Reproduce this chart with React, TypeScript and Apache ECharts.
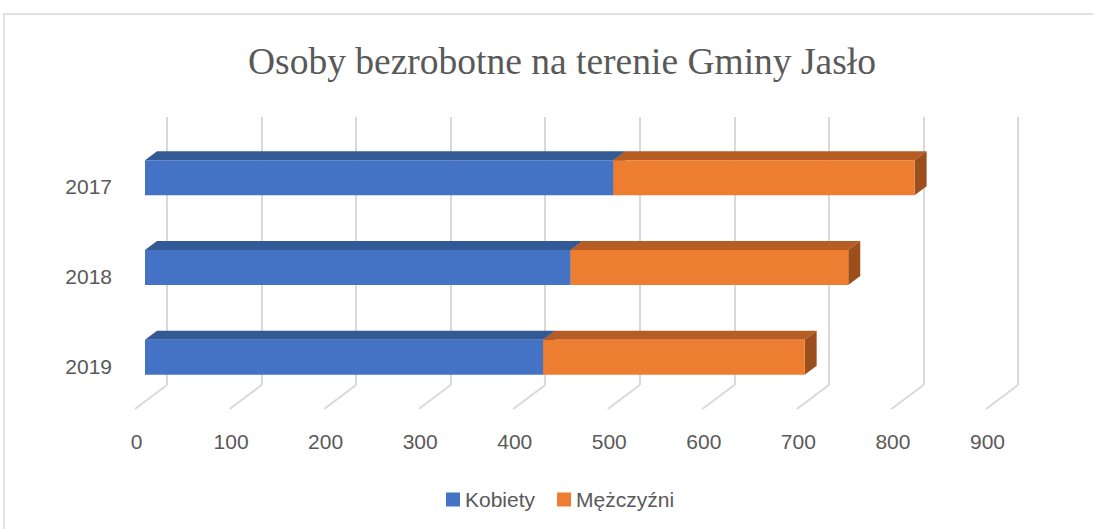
import React, { useEffect, useRef } from "react";
import * as echarts from "echarts";

const years = ["2017", "2018", "2019"];
const kobiety = [494, 449, 420];
const mezczyzni = [318, 293, 276];
const xTicks = [0, 100, 200, 300, 400, 500, 600, 700, 800, 900];
const titleText = "Osoby bezrobotne na terenie Gminy Jasło";
const seriesNames = ["Kobiety", "Mężczyźni"];

const DX = 12;
const DY = 9;
const FONT = "'Liberation Sans', Arial, sans-serif";

const palettes = [
  { front: "#4472C4", top: "#345A96", side: "#2F528F" },
  { front: "#ED7D31", top: "#B55D22", side: "#9C4F1D" },
];

export default function App() {
  const ref = useRef<HTMLDivElement>(null);
  useEffect(() => {
    if (!ref.current) return;
    const chart = echarts.init(ref.current, null, { renderer: "svg" });

    const segData = [
      years.map((_, i) => [0, kobiety[i], i]),
      years.map((_, i) => [kobiety[i], kobiety[i] + mezczyzni[i], i]),
    ];

    const makeBarSeries = (si: number) => ({
      type: "custom",
      name: seriesNames[si],
      xAxisIndex: 0,
      yAxisIndex: 0,
      itemStyle: { color: palettes[si].front },
      encode: { x: [0, 1], y: 2 },
      data: segData[si],
      z: 10 + si,
      renderItem: (params: any, api: any) => {
        const s = api.value(0);
        const e = api.value(1);
        const c = api.value(2);
        const p0 = api.coord([s, c]);
        const p1 = api.coord([e, c]);
        const band = api.size([0, 1])[1];
        const h = band * 0.39;
        const x0 = p0[0];
        const x1 = p1[0];
        const yt = p0[1] - h / 2;
        const yb = p0[1] + h / 2;
        const pal = palettes[si];
        return {
          type: "group",
          children: [
            {
              type: "polygon",
              shape: { points: [[x0, yt], [x1, yt], [x1 + DX, yt - DY], [x0 + DX, yt - DY]] },
              style: { fill: pal.top },
            },
            {
              type: "polygon",
              shape: { points: [[x1, yt], [x1 + DX, yt - DY], [x1 + DX, yb - DY], [x1, yb]] },
              style: { fill: pal.side },
            },
            {
              type: "rect",
              shape: { x: x0, y: yt, width: x1 - x0, height: yb - yt },
              style: { fill: pal.front },
            },
          ],
        };
      },
    });

    const option: any = {
      animation: false,
      backgroundColor: "#ffffff",
      title: {
        text: titleText,
        left: 557,
        textAlign: "center",
        top: 37,
        textStyle: {
          fontFamily: "'Liberation Serif', 'Times New Roman', serif",
          fontSize: 37.5,
          fontWeight: "normal",
          color: "#595959",
        },
      },
      legend: {
        data: seriesNames,
        left: 441,
        top: 484,
        icon: "rect",
        itemWidth: 14,
        itemHeight: 14,
        itemGap: 22,
        textStyle: { fontFamily: FONT, fontSize: 21, color: "#595959", padding: [0, 0, 0, 0] },
      },
      graphic: [
        {
          type: "rect",
          shape: { x: 4, y: 14, width: 1200, height: 600 },
          style: { fill: "none", stroke: "#d9d9d9", lineWidth: 1.5 },
          silent: true,
        },
      ],
      grid: [
        { left: 145, top: 133, width: 853, height: 269 },
        { left: 145, top: 142, width: 853, height: 269 },
        { left: 167, top: 117, width: 851, height: 268 },
        { left: 136.5, top: 401, width: 851, height: 8 },
      ],
      xAxis: [
        { gridIndex: 0, type: "value", min: 0, max: 900, show: false },
        { gridIndex: 1, type: "value", min: 0, max: 900, show: false },
        {
          gridIndex: 2,
          type: "value",
          min: 0,
          max: 900,
          interval: 100,
          axisLine: { show: false },
          axisTick: { show: false },
          axisLabel: { show: false },
          splitLine: { show: true, lineStyle: { color: "#d9d9d9", width: 2 } },
        },
        {
          gridIndex: 3,
          type: "value",
          min: 0,
          max: 900,
          interval: 100,
          axisLine: { show: false },
          axisTick: { show: false },
          splitLine: { show: false },
          axisLabel: { show: true, margin: 22, fontFamily: FONT, fontSize: 21, color: "#595959" },
        },
      ],
      yAxis: [
        { gridIndex: 0, type: "category", data: years, inverse: true, show: false },
        {
          gridIndex: 1,
          type: "category",
          data: years,
          inverse: true,
          axisLine: { show: false },
          axisTick: { show: false },
          splitLine: { show: false },
          axisLabel: { margin: 33, fontFamily: FONT, fontSize: 21, color: "#595959" },
        },
        { gridIndex: 2, type: "value", min: 0, max: 1, show: false },
        { gridIndex: 3, type: "value", min: 0, max: 1, show: false },
      ],
      series: [
        {
          type: "custom",
          name: "floor",
          xAxisIndex: 2,
          yAxisIndex: 2,
          silent: true,
          data: xTicks.map((v) => [v, 0]),
          encode: { x: 0, y: 1 },
          renderItem: (params: any, api: any) => {
            const p = api.coord([api.value(0), 0]);
            return {
              type: "line",
              shape: { x1: p[0], y1: p[1], x2: p[0] - 32, y2: p[1] + 24 },
              style: { stroke: "#d9d9d9", lineWidth: 2 },
            };
          },
        },
        makeBarSeries(0),
        makeBarSeries(1),
      ],
    };
    chart.setOption(option);
    return () => chart.dispose();
  }, []);

  return (
    <div
      ref={ref}
      style={{ position: "fixed", left: 0, top: 0, width: 1093, height: 529 }}
    />
  );
}
